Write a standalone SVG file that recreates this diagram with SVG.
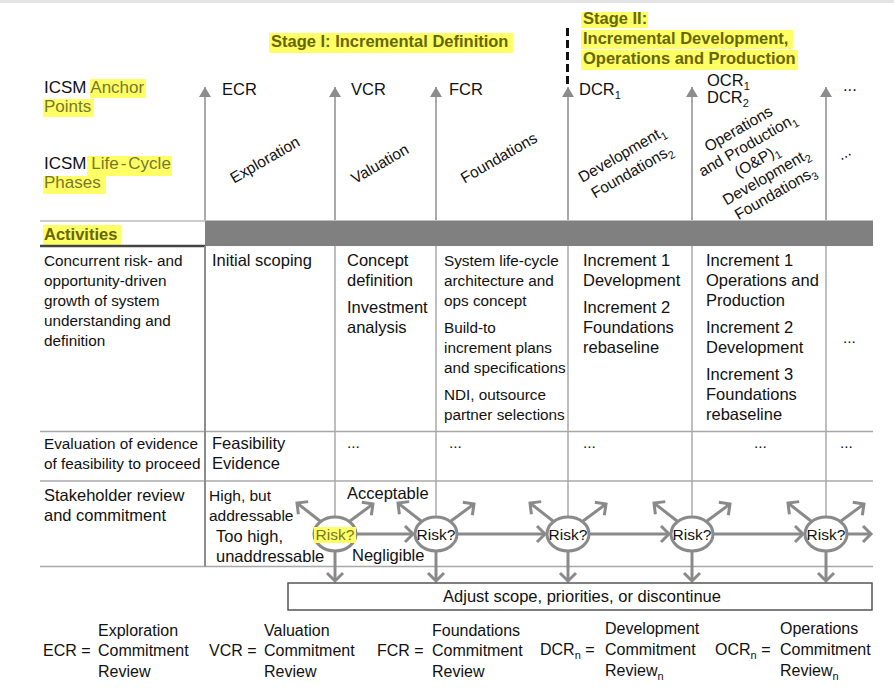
<svg xmlns="http://www.w3.org/2000/svg" width="894" height="699" viewBox="0 0 894 699">
<defs>
<style>
text { font-family: "Liberation Sans", Arial, Helvetica, sans-serif; font-size: 15.5px; fill: #111; }
.hl { fill: #ffff66; }
.olive { fill: #77772e; }
.stage { font-weight: bold; font-size: 16.5px; fill: #666600; }
.bold { font-weight: bold; fill: #666600; }
.anchor { stroke: #8c8c8c; stroke-width: 1.5; fill: none; }
.grid { stroke: #a8a8a8; stroke-width: 1.5; fill: none; }
.flow { stroke: #8a8a8a; stroke-width: 3; fill: none; }
.risk { fill: #fff; stroke: #8a8a8a; stroke-width: 3; }
.rt { text-anchor: middle; font-size: 15.5px; }
.mid { text-anchor: middle; }
.sub { font-size: 11px; }
.lbl { font-size: 17px; }
.sm { font-size: 15.3px; }
.lg { font-size: 16.5px; }
.leg { font-size: 16px; }
.ap { font-size: 16.5px; }
</style>
<marker id="tri" viewBox="0 0 10 12" refX="10" refY="6" markerWidth="10" markerHeight="12" markerUnits="userSpaceOnUse" orient="auto">
<path d="M0,0 L10,6 L0,12 z" fill="#8c8c8c"/>
</marker>
<marker id="chev" viewBox="0 0 12 18" refX="9" refY="9" markerWidth="12" markerHeight="18" markerUnits="userSpaceOnUse" orient="auto" overflow="visible">
<path d="M1,1 L9,9 L1,17" fill="none" stroke="#8a8a8a" stroke-width="3"/>
</marker>
</defs>

<rect x="0" y="0" width="894" height="699" fill="#fff"/>
<rect x="0" y="0" width="894" height="3" fill="#e4e4e4"/>

<!-- Stage headers -->
<g id="stage1">
<rect class="hl" x="269" y="33" width="244" height="20"/>
<text class="stage" x="271" y="47">Stage I: Incremental Definition</text>
</g>
<g id="stage2">
<rect class="hl" x="581" y="12" width="67" height="16"/>
<rect class="hl" x="581" y="30" width="212" height="19"/>
<rect class="hl" x="581" y="50" width="217" height="20"/>
<text class="stage" x="583" y="24">Stage II:</text>
<text class="stage" x="583" y="44">Incremental Development,</text>
<text class="stage" x="583" y="64">Operations and Production</text>
</g>
<line id="stage-divider" x1="567.5" y1="28" x2="567.5" y2="85" stroke="#111" stroke-width="3" stroke-dasharray="8,4"/>

<!-- Row labels -->
<g id="label-anchor">
<rect class="hl" x="90" y="79" width="56" height="19"/>
<rect class="hl" x="43" y="99" width="51" height="18"/>
<text class="lbl" x="44" y="93">ICSM <tspan class="olive">Anchor</tspan></text>
<text class="lbl olive" x="44" y="112">Points</text>
</g>
<g id="label-phases">
<rect class="hl" x="87" y="156" width="85" height="20"/>
<rect class="hl" x="43" y="176" width="63" height="18"/>
<text class="lbl" x="44" y="169">ICSM <tspan class="olive">Life<tspan dx="2">-</tspan><tspan dx="2">Cycle</tspan></tspan></text>
<text class="lbl olive" x="44" y="188">Phases</text>
</g>
<g id="label-activities">
<rect class="hl" x="43" y="225" width="78" height="21"/>
<text class="bold lg" x="44" y="240">Activities</text>
</g>

<!-- Activities band and grid -->
<g id="grid">
<line x1="40" y1="221" x2="205" y2="221" stroke="#999" stroke-width="1"/>
<rect x="205" y="220.5" width="668" height="25.5" fill="#808080"/>
<line x1="40" y1="246" x2="205" y2="246" stroke="#444" stroke-width="2.5"/>
<line class="grid" x1="40" y1="431.5" x2="873" y2="431.5"/>
<line class="grid" x1="40" y1="481" x2="873" y2="481"/>
<line class="grid" x1="40" y1="566.5" x2="873" y2="566.5"/>
<line x1="205" y1="246" x2="205" y2="566.5" stroke="#8c8c8c" stroke-width="2"/>
<line class="grid" x1="335" y1="246" x2="335" y2="566.5"/>
<line class="grid" x1="436" y1="246" x2="436" y2="566.5"/>
<line class="grid" x1="568" y1="246" x2="568" y2="566.5"/>
<line class="grid" x1="692" y1="246" x2="692" y2="566.5"/>
<line class="grid" x1="826" y1="246" x2="826" y2="566.5"/>
</g>

<!-- Anchor point labels -->
<g id="anchor-labels">
<text class="ap" x="222" y="95">ECR</text>
<text class="ap" x="351" y="95">VCR</text>
<text class="ap" x="449" y="95">FCR</text>
<text class="ap" x="579" y="95">DCR<tspan class="sub" dy="4">1</tspan></text>
<text class="ap" x="707" y="86">OCR<tspan class="sub" dy="4">1</tspan></text>
<text class="ap" x="707" y="103">DCR<tspan class="sub" dy="4">2</tspan></text>
<text class="ap" x="843" y="91">...</text>
</g>

<!-- Phase labels -->
<g id="phases">
<text class="rt" font-size="16" transform="translate(265,160) rotate(-30)" y="5">Exploration</text>
<text class="rt" font-size="16" transform="translate(380,164) rotate(-30)" y="5">Valuation</text>
<text class="rt" font-size="16" transform="translate(499,158) rotate(-30)" y="5">Foundations</text>
<g transform="translate(627,163) rotate(-30)">
<text class="rt" x="0" y="-5">Development<tspan class="sub" dy="4">1</tspan></text>
<text class="rt" x="0" y="15">Foundations<tspan class="sub" dy="4">2</tspan></text>
</g>
<g transform="translate(757,161) rotate(-30)">
<text class="rt" x="0" y="-32">Operations</text>
<text class="rt" x="0" y="-13.5">and Production<tspan class="sub" dy="4">1</tspan></text>
<text class="rt" x="0" y="5">(O&amp;P)<tspan class="sub" dy="4">1</tspan></text>
<text class="rt" x="0" y="23.5">Development<tspan class="sub" dy="4">2</tspan></text>
<text class="rt" x="0" y="42">Foundations<tspan class="sub" dy="4">3</tspan></text>
</g>
<text class="rt" transform="translate(845,155) rotate(-30)" y="3">...</text>
</g>

<!-- Row 1 -->
<g id="row-activities">
<text class="sm" x="44" y="266">Concurrent risk- and</text>
<text class="sm" x="44" y="286">opportunity-driven</text>
<text class="sm" x="44" y="306">growth of system</text>
<text class="sm" x="44" y="326">understanding and</text>
<text class="sm" x="44" y="346">definition</text>
<text class="lg" x="212" y="266">Initial scoping</text>
<text class="lg" x="347" y="266">Concept</text>
<text class="lg" x="347" y="286">definition</text>
<text class="lg" x="347" y="313">Investment</text>
<text class="lg" x="347" y="333">analysis</text>
<text class="sm" x="444" y="266">System life-cycle</text>
<text class="sm" x="444" y="286">architecture and</text>
<text class="sm" x="444" y="306">ops concept</text>
<text class="sm" x="444" y="333">Build-to</text>
<text class="sm" x="444" y="353">increment plans</text>
<text class="sm" x="444" y="373">and specifications</text>
<text class="sm" x="444" y="400">NDI, outsource</text>
<text class="sm" x="444" y="420">partner selections</text>
<text class="lg" x="583" y="266">Increment 1</text>
<text class="lg" x="583" y="286">Development</text>
<text class="lg" x="583" y="313">Increment 2</text>
<text class="lg" x="583" y="333">Foundations</text>
<text class="lg" x="583" y="353">rebaseline</text>
<text class="lg" x="706" y="266">Increment 1</text>
<text class="lg" x="706" y="286">Operations and</text>
<text class="lg" x="706" y="306">Production</text>
<text class="lg" x="706" y="333">Increment 2</text>
<text class="lg" x="706" y="353">Development</text>
<text class="lg" x="706" y="380">Increment 3</text>
<text class="lg" x="706" y="400">Foundations</text>
<text class="lg" x="706" y="420">rebaseline</text>
<text x="843" y="343">...</text>
</g>

<!-- Row 2 -->
<g id="row-evidence">
<text class="sm" x="44" y="449">Evaluation of evidence</text>
<text class="sm" x="44" y="469">of feasibility to proceed</text>
<text class="lg" x="212" y="449">Feasibility</text>
<text class="lg" x="212" y="469">Evidence</text>
<text x="347" y="448">...</text>
<text x="449" y="448">...</text>
<text x="583" y="448">...</text>
<text x="754" y="448">...</text>
<text x="840" y="448">...</text>
</g>

<!-- Row 3 labels -->
<g id="row-review">
<text class="lg" x="44" y="501">Stakeholder review</text>
<text class="lg" x="44" y="521">and commitment</text>
<text x="209" y="501">High, but</text>
<text x="209" y="521">addressable</text>
<text class="lg" x="216" y="542">Too high,</text>
<text class="lg" x="216" y="562">unaddressable</text>
<text class="lg" x="347" y="499">Acceptable</text>
<text class="lg" x="352" y="561">Negligible</text>
</g>

<!-- Connectors -->
<g id="connectors">
<line class="anchor" x1="205" y1="220" x2="205" y2="87" marker-end="url(#tri)"/>
<line class="anchor" x1="335" y1="220" x2="335" y2="87" marker-end="url(#tri)"/>
<line class="anchor" x1="436" y1="220" x2="436" y2="87" marker-end="url(#tri)"/>
<line class="anchor" x1="568" y1="220" x2="568" y2="87" marker-end="url(#tri)"/>
<line class="anchor" x1="692" y1="220" x2="692" y2="87" marker-end="url(#tri)"/>
<line class="anchor" x1="826" y1="220" x2="826" y2="87" marker-end="url(#tri)"/>

<line class="flow" x1="357" y1="534" x2="413" y2="534" marker-end="url(#chev)"/>
<line class="flow" x1="458" y1="534" x2="545" y2="534" marker-end="url(#chev)"/>
<line class="flow" x1="590" y1="534" x2="669" y2="534" marker-end="url(#chev)"/>
<line class="flow" x1="714" y1="534" x2="803" y2="534" marker-end="url(#chev)"/>
<line class="flow" x1="848" y1="534" x2="871" y2="534" marker-end="url(#chev)"/>

<line class="flow" x1="335" y1="552" x2="335" y2="581" marker-end="url(#chev)"/>
<line class="flow" x1="436" y1="552" x2="436" y2="581" marker-end="url(#chev)"/>
<line class="flow" x1="568" y1="552" x2="568" y2="581" marker-end="url(#chev)"/>
<line class="flow" x1="692" y1="552" x2="692" y2="581" marker-end="url(#chev)"/>
<line class="flow" x1="826" y1="552" x2="826" y2="581" marker-end="url(#chev)"/>

<line class="flow" x1="320" y1="521" x2="297" y2="503" marker-end="url(#chev)"/>
<line class="flow" x1="350" y1="521" x2="373" y2="504" marker-end="url(#chev)"/>
<line class="flow" x1="421" y1="521" x2="398" y2="503" marker-end="url(#chev)"/>
<line class="flow" x1="451" y1="521" x2="474" y2="504" marker-end="url(#chev)"/>
<line class="flow" x1="553" y1="521" x2="530" y2="503" marker-end="url(#chev)"/>
<line class="flow" x1="583" y1="521" x2="606" y2="504" marker-end="url(#chev)"/>
<line class="flow" x1="677" y1="521" x2="654" y2="503" marker-end="url(#chev)"/>
<line class="flow" x1="707" y1="521" x2="730" y2="504" marker-end="url(#chev)"/>
<line class="flow" x1="811" y1="521" x2="788" y2="503" marker-end="url(#chev)"/>
<line class="flow" x1="841" y1="521" x2="864" y2="504" marker-end="url(#chev)"/>
</g>

<!-- Risk nodes -->
<g id="risk1">
<ellipse class="risk" cx="335" cy="534" rx="21" ry="17"/>
<rect class="hl" x="314" y="527" width="42" height="16"/>
<text class="mid olive" x="335" y="539.5" font-size="15">Risk?</text>
</g>
<g id="risk2">
<ellipse class="risk" cx="436" cy="534" rx="21" ry="17"/>
<text class="mid" x="436" y="539.5" font-size="15">Risk?</text>
</g>
<g id="risk3">
<ellipse class="risk" cx="568" cy="534" rx="21" ry="17"/>
<text class="mid" x="568" y="539.5" font-size="15">Risk?</text>
</g>
<g id="risk4">
<ellipse class="risk" cx="692" cy="534" rx="21" ry="17"/>
<text class="mid" x="692" y="539.5" font-size="15">Risk?</text>
</g>
<g id="risk5">
<ellipse class="risk" cx="826" cy="534" rx="21" ry="17"/>
<text class="mid" x="826" y="539.5" font-size="15">Risk?</text>
</g>

<!-- Adjust box -->
<g id="adjust">
<rect x="288" y="583" width="584" height="27" fill="#fff" stroke="#555" stroke-width="1.5"/>
<text class="mid lg" x="582" y="602">Adjust scope, priorities, or discontinue</text>
</g>

<!-- Legend -->
<g id="legend">
<text class="leg" x="43" y="656">ECR =</text>
<text class="leg" x="98" y="636">Exploration</text>
<text class="leg" x="98" y="656">Commitment</text>
<text class="leg" x="98" y="677">Review</text>
<text class="leg" x="209" y="656">VCR =</text>
<text class="leg" x="264" y="636">Valuation</text>
<text class="leg" x="264" y="656">Commitment</text>
<text class="leg" x="264" y="677">Review</text>
<text class="leg" x="377" y="656">FCR =</text>
<text class="leg" x="432" y="636">Foundations</text>
<text class="leg" x="432" y="656">Commitment</text>
<text class="leg" x="432" y="677">Review</text>
<text class="leg" x="540" y="655">DCR<tspan class="sub" dy="4">n</tspan><tspan dy="-4"> =</tspan></text>
<text class="leg" x="605" y="634">Development</text>
<text class="leg" x="605" y="655">Commitment</text>
<text class="leg" x="605" y="676">Review<tspan class="sub" dy="4">n</tspan></text>
<text class="leg" x="715" y="655">OCR<tspan class="sub" dy="4">n</tspan><tspan dy="-4"> =</tspan></text>
<text class="leg" x="780" y="634">Operations</text>
<text class="leg" x="780" y="655">Commitment</text>
<text class="leg" x="780" y="676">Review<tspan class="sub" dy="4">n</tspan></text>
</g>
</svg>
